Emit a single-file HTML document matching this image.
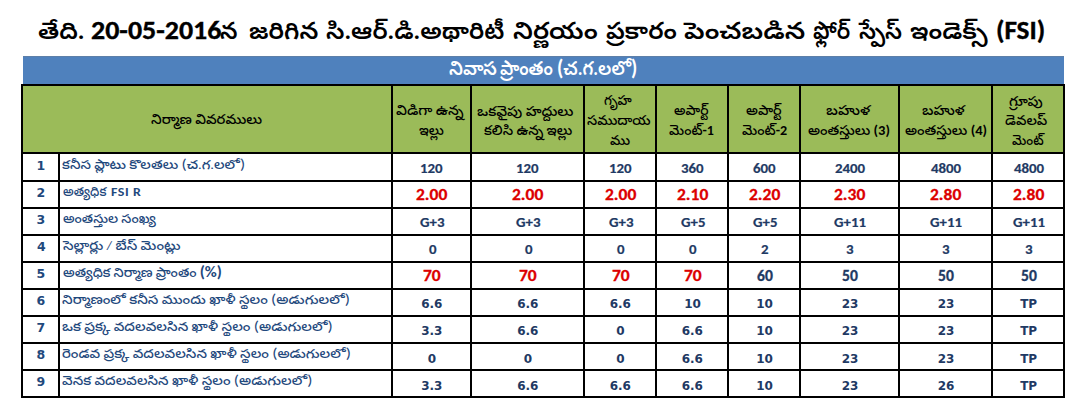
<!DOCTYPE html>
<html><head><meta charset="utf-8"><title>FSI</title><style>
*{margin:0;padding:0;box-sizing:border-box}
html,body{width:1081px;height:411px;overflow:hidden;background:#fff}
body{position:relative}
.a{position:absolute;white-space:nowrap;line-height:normal}
.p{font-size:15px}
.l{position:absolute;background:#000}
</style></head>
<body>
<div style="position:absolute;left:23px;top:56px;width:1041px;height:28px;background:#4f81bd;border-top:1px solid #5d7fa8"></div>
<div style="position:absolute;left:23px;top:86px;width:1040px;height:66px;background:#9bbb59"></div>
<div class="l" style="left:21px;top:84px;width:2px;height:314px"></div>
<div class="l" style="left:58px;top:152px;width:2px;height:246px"></div>
<div class="l" style="left:391px;top:84px;width:2px;height:314px"></div>
<div class="l" style="left:470px;top:84px;width:2px;height:314px"></div>
<div class="l" style="left:583px;top:84px;width:2px;height:314px"></div>
<div class="l" style="left:655px;top:84px;width:2px;height:314px"></div>
<div class="l" style="left:727px;top:84px;width:2px;height:314px"></div>
<div class="l" style="left:799px;top:84px;width:2px;height:314px"></div>
<div class="l" style="left:898px;top:84px;width:2px;height:314px"></div>
<div class="l" style="left:991px;top:84px;width:2px;height:314px"></div>
<div class="l" style="left:1063px;top:84px;width:2px;height:314px"></div>
<div class="l" style="left:21px;top:84px;width:1044px;height:2px"></div>
<div class="l" style="left:21px;top:152px;width:1044px;height:2px"></div>
<div class="l" style="left:21px;top:180px;width:1044px;height:2px"></div>
<div class="l" style="left:21px;top:207px;width:1044px;height:2px"></div>
<div class="l" style="left:21px;top:234px;width:1044px;height:2px"></div>
<div class="l" style="left:21px;top:261px;width:1044px;height:2px"></div>
<div class="l" style="left:21px;top:288px;width:1044px;height:2px"></div>
<div class="l" style="left:21px;top:315px;width:1044px;height:2px"></div>
<div class="l" style="left:21px;top:342px;width:1044px;height:2px"></div>
<div class="l" style="left:21px;top:369px;width:1044px;height:2px"></div>
<div class="l" style="left:21px;top:396px;width:1044px;height:2px"></div>
<div class="a" style="left:38.03px;top:17.00px;font-family:Carlito,'Liberation Sans','Noto Sans Telugu UI','Noto Sans Telugu',sans-serif;font-size:23.5px;font-weight:600;color:#000;transform:scaleX(1.0683);transform-origin:0 0;">తేది.</div>
<div class="a" style="left:90.76px;top:12.70px;font-family:Carlito,'Liberation Sans','Noto Sans Telugu UI','Noto Sans Telugu',sans-serif;font-size:27px;font-weight:700;-webkit-text-stroke:0.35px #000;color:#000;transform:scaleX(1.0352);transform-origin:0 0;">20-05-2016</div>
<div class="a" style="left:220.00px;top:17.00px;font-family:Carlito,'Liberation Sans','Noto Sans Telugu UI','Noto Sans Telugu',sans-serif;font-size:23.5px;font-weight:600;color:#000;">న</div>
<div class="a" style="left:248.52px;top:17.00px;font-family:Carlito,'Liberation Sans','Noto Sans Telugu UI','Noto Sans Telugu',sans-serif;font-size:23.5px;font-weight:600;color:#000;transform:scaleX(1.0778);transform-origin:0 0;">జరిగిన</div>
<div class="a" style="left:325.94px;top:17.00px;font-family:Carlito,'Liberation Sans','Noto Sans Telugu UI','Noto Sans Telugu',sans-serif;font-size:23.5px;font-weight:600;color:#000;transform:scaleX(1.0551);transform-origin:0 0;">సి.ఆర్.డి.అథారిటీ</div>
<div class="a" style="left:513.18px;top:17.00px;font-family:Carlito,'Liberation Sans','Noto Sans Telugu UI','Noto Sans Telugu',sans-serif;font-size:23.5px;font-weight:600;color:#000;transform:scaleX(1.1243);transform-origin:0 0;">నిర్ణయం</div>
<div class="a" style="left:606.00px;top:17.00px;font-family:Carlito,'Liberation Sans','Noto Sans Telugu UI','Noto Sans Telugu',sans-serif;font-size:23.5px;font-weight:600;color:#000;transform:scaleX(1.0682);transform-origin:0 0;">ప్రకారం</div>
<div class="a" style="left:683.70px;top:17.00px;font-family:Carlito,'Liberation Sans','Noto Sans Telugu UI','Noto Sans Telugu',sans-serif;font-size:23.5px;font-weight:600;color:#000;transform:scaleX(1.1709);transform-origin:0 0;">పెంచబడిన</div>
<div class="a" style="left:812.56px;top:17.00px;font-family:Carlito,'Liberation Sans','Noto Sans Telugu UI','Noto Sans Telugu',sans-serif;font-size:23.5px;font-weight:600;color:#000;transform:scaleX(0.9385);transform-origin:0 0;">ఫ్లోర్</div>
<div class="a" style="left:859.30px;top:17.00px;font-family:Carlito,'Liberation Sans','Noto Sans Telugu UI','Noto Sans Telugu',sans-serif;font-size:23.5px;font-weight:600;color:#000;transform:scaleX(0.9705);transform-origin:0 0;">స్పేస్</div>
<div class="a" style="left:910.01px;top:17.00px;font-family:Carlito,'Liberation Sans','Noto Sans Telugu UI','Noto Sans Telugu',sans-serif;font-size:23.5px;font-weight:600;color:#000;transform:scaleX(1.0914);transform-origin:0 0;">ఇండెక్స్</div>
<div class="a" style="left:996.09px;top:12.70px;font-family:Carlito,'Liberation Sans','Noto Sans Telugu UI','Noto Sans Telugu',sans-serif;font-size:27px;font-weight:700;-webkit-text-stroke:0.35px #000;color:#000;transform:scaleX(1.0085);transform-origin:0 0;">(FSI)</div>
<div class="a" style="left:448.75px;top:55.60px;font-family:Carlito,'Liberation Sans','Noto Sans Telugu UI','Noto Sans Telugu',sans-serif;font-size:19.5px;font-weight:600;color:#fff;transform:scaleX(0.9510);transform-origin:0 0;">నివాస</div>
<div class="a" style="left:500.20px;top:55.60px;font-family:Carlito,'Liberation Sans','Noto Sans Telugu UI','Noto Sans Telugu',sans-serif;font-size:19.5px;font-weight:600;color:#fff;transform:scaleX(0.9052);transform-origin:0 0;">ప్రాంతం</div>
<div class="a" style="left:556.58px;top:53.60px;font-family:Carlito,'Liberation Sans','Noto Sans Telugu UI','Noto Sans Telugu',sans-serif;font-size:19.5px;font-weight:600;color:#fff;transform:scaleX(0.9151);transform-origin:0 0;"><span style='font-size:22px'>(</span>చ.గ.లలో<span style='font-size:22px'>)</span></div>
<div class="a" style="left:151.40px;top:111.00px;font-family:Carlito,'Liberation Sans','Noto Sans Telugu UI','Noto Sans Telugu',sans-serif;font-size:14px;font-weight:500;color:#000;transform:scaleX(1.0472);transform-origin:0 0;">నిర్మాణ వివరములు</div>
<div class="a" style="left:395.60px;top:102.20px;font-family:Carlito,'Liberation Sans','Noto Sans Telugu UI','Noto Sans Telugu',sans-serif;font-size:14px;font-weight:500;color:#000;transform:scaleX(1.0687);transform-origin:0 0;">విడిగా ఉన్న</div>
<div class="a" style="left:419.00px;top:122.00px;font-family:Carlito,'Liberation Sans','Noto Sans Telugu UI','Noto Sans Telugu',sans-serif;font-size:14px;font-weight:500;color:#000;transform:scaleX(0.9960);transform-origin:0 0;">ఇల్లు</div>
<div class="a" style="left:477.20px;top:102.80px;font-family:Carlito,'Liberation Sans','Noto Sans Telugu UI','Noto Sans Telugu',sans-serif;font-size:14px;font-weight:500;color:#000;transform:scaleX(1.0622);transform-origin:0 0;">ఒకవైపు హద్దులు</div>
<div class="a" style="left:483.70px;top:121.60px;font-family:Carlito,'Liberation Sans','Noto Sans Telugu UI','Noto Sans Telugu',sans-serif;font-size:14px;font-weight:500;color:#000;transform:scaleX(1.0329);transform-origin:0 0;">కలిసి ఉన్న ఇల్లు</div>
<div class="a" style="left:604.00px;top:92.20px;font-family:Carlito,'Liberation Sans','Noto Sans Telugu UI','Noto Sans Telugu',sans-serif;font-size:14px;font-weight:500;color:#000;transform:scaleX(0.9552);transform-origin:0 0;">గృహ</div>
<div class="a" style="left:587.20px;top:112.20px;font-family:Carlito,'Liberation Sans','Noto Sans Telugu UI','Noto Sans Telugu',sans-serif;font-size:14px;font-weight:500;color:#000;transform:scaleX(1.0079);transform-origin:0 0;">సముదాయ</div>
<div class="a" style="left:609.70px;top:131.80px;font-family:Carlito,'Liberation Sans','Noto Sans Telugu UI','Noto Sans Telugu',sans-serif;font-size:14px;font-weight:500;color:#000;transform:scaleX(1.0050);transform-origin:0 0;">ము</div>
<div class="a" style="left:674.00px;top:102.00px;font-family:Carlito,'Liberation Sans','Noto Sans Telugu UI','Noto Sans Telugu',sans-serif;font-size:14px;font-weight:500;color:#000;transform:scaleX(0.9857);transform-origin:0 0;">అపార్ట్</div>
<div class="a" style="left:669.10px;top:122.00px;font-family:Carlito,'Liberation Sans','Noto Sans Telugu UI','Noto Sans Telugu',sans-serif;font-size:14px;font-weight:500;color:#000;">మెంట్<b>-1</b></div>
<div class="a" style="left:746.00px;top:102.00px;font-family:Carlito,'Liberation Sans','Noto Sans Telugu UI','Noto Sans Telugu',sans-serif;font-size:14px;font-weight:500;color:#000;transform:scaleX(1.0200);transform-origin:0 0;">అపార్ట్</div>
<div class="a" style="left:742.00px;top:122.20px;font-family:Carlito,'Liberation Sans','Noto Sans Telugu UI','Noto Sans Telugu',sans-serif;font-size:14px;font-weight:500;color:#000;transform:scaleX(1.0067);transform-origin:0 0;">మెంట్<b>-2</b></div>
<div class="a" style="left:826.20px;top:102.00px;font-family:Carlito,'Liberation Sans','Noto Sans Telugu UI','Noto Sans Telugu',sans-serif;font-size:14px;font-weight:500;color:#000;transform:scaleX(1.1049);transform-origin:0 0;">బహుళ</div>
<div class="a" style="left:808.40px;top:122.20px;font-family:Carlito,'Liberation Sans','Noto Sans Telugu UI','Noto Sans Telugu',sans-serif;font-size:14px;font-weight:500;color:#000;transform:scaleX(1.0342);transform-origin:0 0;">అంతస్తులు <b>(3)</b></div>
<div class="a" style="left:921.70px;top:102.00px;font-family:Carlito,'Liberation Sans','Noto Sans Telugu UI','Noto Sans Telugu',sans-serif;font-size:14px;font-weight:500;color:#000;transform:scaleX(1.0659);transform-origin:0 0;">బహుళ</div>
<div class="a" style="left:904.70px;top:122.20px;font-family:Carlito,'Liberation Sans','Noto Sans Telugu UI','Noto Sans Telugu',sans-serif;font-size:14px;font-weight:500;color:#000;transform:scaleX(1.0354);transform-origin:0 0;">అంతస్తులు <b>(4)</b></div>
<div class="a" style="left:1009.10px;top:92.60px;font-family:Carlito,'Liberation Sans','Noto Sans Telugu UI','Noto Sans Telugu',sans-serif;font-size:14px;font-weight:500;color:#000;transform:scaleX(1.0625);transform-origin:0 0;">గ్రూపు</div>
<div class="a" style="left:1005.10px;top:112.40px;font-family:Carlito,'Liberation Sans','Noto Sans Telugu UI','Noto Sans Telugu',sans-serif;font-size:14px;font-weight:500;color:#000;transform:scaleX(1.0268);transform-origin:0 0;">డెవలప్</div>
<div class="a" style="left:1011.60px;top:132.00px;font-family:Carlito,'Liberation Sans','Noto Sans Telugu UI','Noto Sans Telugu',sans-serif;font-size:14px;font-weight:500;color:#000;transform:scaleX(0.9457);transform-origin:0 0;">మెంట్</div>
<div class="a" style="left:62.20px;top:154.60px;font-family:Carlito,'Liberation Sans','Noto Sans Telugu UI','Noto Sans Telugu',sans-serif;font-size:12.8px;font-weight:500;color:#1f497d;transform:scaleX(1.1335);transform-origin:0 0;">కనీస ప్లాటు కొలతలు <span style='font-size:15px'>(</span>చ.గ.లలో<span style='font-size:15px'>)</span></div>
<div class="a" style="left:36.40px;top:157.60px;font-family:'DejaVu Sans',sans-serif;font-size:12.5px;font-weight:700;color:#1f497d;">1</div>
<div class="a" style="left:420.24px;top:158.80px;font-family:Carlito,'Liberation Sans',sans-serif;font-size:14.3px;font-weight:700;-webkit-text-stroke:0.2px #1f3a64;color:#1f3a64;transform:scaleX(1.0400);transform-origin:0 0;">120</div>
<div class="a" style="left:516.24px;top:158.80px;font-family:Carlito,'Liberation Sans',sans-serif;font-size:14.3px;font-weight:700;-webkit-text-stroke:0.2px #1f3a64;color:#1f3a64;transform:scaleX(1.0400);transform-origin:0 0;">120</div>
<div class="a" style="left:608.74px;top:158.80px;font-family:Carlito,'Liberation Sans',sans-serif;font-size:14.3px;font-weight:700;-webkit-text-stroke:0.2px #1f3a64;color:#1f3a64;transform:scaleX(1.0400);transform-origin:0 0;">120</div>
<div class="a" style="left:680.74px;top:158.80px;font-family:Carlito,'Liberation Sans',sans-serif;font-size:14.3px;font-weight:700;-webkit-text-stroke:0.2px #1f3a64;color:#1f3a64;transform:scaleX(1.0400);transform-origin:0 0;">360</div>
<div class="a" style="left:753.26px;top:158.80px;font-family:Carlito,'Liberation Sans',sans-serif;font-size:14.3px;font-weight:700;-webkit-text-stroke:0.2px #1f3a64;color:#1f3a64;transform:scaleX(1.0400);transform-origin:0 0;">600</div>
<div class="a" style="left:835.12px;top:158.80px;font-family:Carlito,'Liberation Sans',sans-serif;font-size:14.3px;font-weight:700;-webkit-text-stroke:0.2px #1f3a64;color:#1f3a64;transform:scaleX(1.0400);transform-origin:0 0;">2400</div>
<div class="a" style="left:931.12px;top:158.80px;font-family:Carlito,'Liberation Sans',sans-serif;font-size:14.3px;font-weight:700;-webkit-text-stroke:0.2px #1f3a64;color:#1f3a64;transform:scaleX(1.0400);transform-origin:0 0;">4800</div>
<div class="a" style="left:1013.62px;top:158.80px;font-family:Carlito,'Liberation Sans',sans-serif;font-size:14.3px;font-weight:700;-webkit-text-stroke:0.2px #1f3a64;color:#1f3a64;transform:scaleX(1.0400);transform-origin:0 0;">4800</div>
<div class="a" style="left:62.70px;top:183.70px;font-family:Carlito,'Liberation Sans','Noto Sans Telugu UI','Noto Sans Telugu',sans-serif;font-size:12.8px;font-weight:500;color:#1f497d;transform:scaleX(1.0023);transform-origin:0 0;">అత్యధిక</div>
<div class="a" style="left:111.28px;top:183.70px;font-family:Carlito,'Liberation Sans',sans-serif;font-size:12.5px;font-weight:700;letter-spacing:0.5px;color:#1f497d;transform:scaleX(1.1154);transform-origin:0 0;">FSI R</div>
<div class="a" style="left:36.40px;top:184.70px;font-family:'DejaVu Sans',sans-serif;font-size:12.5px;font-weight:700;color:#1f497d;">2</div>
<div class="a" style="left:416.30px;top:183.90px;font-family:Carlito,'Liberation Sans',sans-serif;font-size:16.5px;font-weight:700;-webkit-text-stroke:0.3px #dc0000;color:#dc0000;transform:scaleX(1.0600);transform-origin:0 0;">2.00</div>
<div class="a" style="left:512.30px;top:183.90px;font-family:Carlito,'Liberation Sans',sans-serif;font-size:16.5px;font-weight:700;-webkit-text-stroke:0.3px #dc0000;color:#dc0000;transform:scaleX(1.0600);transform-origin:0 0;">2.00</div>
<div class="a" style="left:604.80px;top:183.90px;font-family:Carlito,'Liberation Sans',sans-serif;font-size:16.5px;font-weight:700;-webkit-text-stroke:0.3px #dc0000;color:#dc0000;transform:scaleX(1.0600);transform-origin:0 0;">2.00</div>
<div class="a" style="left:676.80px;top:183.90px;font-family:Carlito,'Liberation Sans',sans-serif;font-size:16.5px;font-weight:700;-webkit-text-stroke:0.3px #dc0000;color:#dc0000;transform:scaleX(1.0600);transform-origin:0 0;">2.10</div>
<div class="a" style="left:748.80px;top:183.90px;font-family:Carlito,'Liberation Sans',sans-serif;font-size:16.5px;font-weight:700;-webkit-text-stroke:0.3px #dc0000;color:#dc0000;transform:scaleX(1.0600);transform-origin:0 0;">2.20</div>
<div class="a" style="left:834.30px;top:183.90px;font-family:Carlito,'Liberation Sans',sans-serif;font-size:16.5px;font-weight:700;-webkit-text-stroke:0.3px #dc0000;color:#dc0000;transform:scaleX(1.0600);transform-origin:0 0;">2.30</div>
<div class="a" style="left:930.30px;top:183.90px;font-family:Carlito,'Liberation Sans',sans-serif;font-size:16.5px;font-weight:700;-webkit-text-stroke:0.3px #dc0000;color:#dc0000;transform:scaleX(1.0600);transform-origin:0 0;">2.80</div>
<div class="a" style="left:1012.80px;top:183.90px;font-family:Carlito,'Liberation Sans',sans-serif;font-size:16.5px;font-weight:700;-webkit-text-stroke:0.3px #dc0000;color:#dc0000;transform:scaleX(1.0600);transform-origin:0 0;">2.80</div>
<div class="a" style="left:62.70px;top:210.80px;font-family:Carlito,'Liberation Sans','Noto Sans Telugu UI','Noto Sans Telugu',sans-serif;font-size:12.8px;font-weight:500;color:#1f497d;transform:scaleX(1.0895);transform-origin:0 0;">అంతస్తుల సంఖ్య</div>
<div class="a" style="left:36.40px;top:211.80px;font-family:'DejaVu Sans',sans-serif;font-size:12.5px;font-weight:700;color:#1f497d;">3</div>
<div class="a" style="left:420.24px;top:213.00px;font-family:Carlito,'Liberation Sans',sans-serif;font-size:14.3px;font-weight:700;-webkit-text-stroke:0.2px #1f3a64;color:#1f3a64;transform:scaleX(1.0400);transform-origin:0 0;">G+3</div>
<div class="a" style="left:516.24px;top:213.00px;font-family:Carlito,'Liberation Sans',sans-serif;font-size:14.3px;font-weight:700;-webkit-text-stroke:0.2px #1f3a64;color:#1f3a64;transform:scaleX(1.0400);transform-origin:0 0;">G+3</div>
<div class="a" style="left:608.74px;top:213.00px;font-family:Carlito,'Liberation Sans',sans-serif;font-size:14.3px;font-weight:700;-webkit-text-stroke:0.2px #1f3a64;color:#1f3a64;transform:scaleX(1.0400);transform-origin:0 0;">G+3</div>
<div class="a" style="left:680.74px;top:213.00px;font-family:Carlito,'Liberation Sans',sans-serif;font-size:14.3px;font-weight:700;-webkit-text-stroke:0.2px #1f3a64;color:#1f3a64;transform:scaleX(1.0400);transform-origin:0 0;">G+5</div>
<div class="a" style="left:752.74px;top:213.00px;font-family:Carlito,'Liberation Sans',sans-serif;font-size:14.3px;font-weight:700;-webkit-text-stroke:0.2px #1f3a64;color:#1f3a64;transform:scaleX(1.0400);transform-origin:0 0;">G+5</div>
<div class="a" style="left:834.08px;top:213.00px;font-family:Carlito,'Liberation Sans',sans-serif;font-size:14.3px;font-weight:700;-webkit-text-stroke:0.2px #1f3a64;color:#1f3a64;transform:scaleX(1.0400);transform-origin:0 0;">G+11</div>
<div class="a" style="left:930.08px;top:213.00px;font-family:Carlito,'Liberation Sans',sans-serif;font-size:14.3px;font-weight:700;-webkit-text-stroke:0.2px #1f3a64;color:#1f3a64;transform:scaleX(1.0400);transform-origin:0 0;">G+11</div>
<div class="a" style="left:1012.58px;top:213.00px;font-family:Carlito,'Liberation Sans',sans-serif;font-size:14.3px;font-weight:700;-webkit-text-stroke:0.2px #1f3a64;color:#1f3a64;transform:scaleX(1.0400);transform-origin:0 0;">G+11</div>
<div class="a" style="left:62.70px;top:237.90px;font-family:Carlito,'Liberation Sans','Noto Sans Telugu UI','Noto Sans Telugu',sans-serif;font-size:12.8px;font-weight:500;color:#1f497d;transform:scaleX(1.1437);transform-origin:0 0;">సెల్లార్లు / బేస్ మెంట్లు</div>
<div class="a" style="left:36.90px;top:238.90px;font-family:'DejaVu Sans',sans-serif;font-size:12.5px;font-weight:700;color:#1f497d;">4</div>
<div class="a" style="left:428.56px;top:240.10px;font-family:Carlito,'Liberation Sans',sans-serif;font-size:14.3px;font-weight:700;-webkit-text-stroke:0.2px #1f3a64;color:#1f3a64;transform:scaleX(1.0400);transform-origin:0 0;">0</div>
<div class="a" style="left:524.56px;top:240.10px;font-family:Carlito,'Liberation Sans',sans-serif;font-size:14.3px;font-weight:700;-webkit-text-stroke:0.2px #1f3a64;color:#1f3a64;transform:scaleX(1.0400);transform-origin:0 0;">0</div>
<div class="a" style="left:617.06px;top:240.10px;font-family:Carlito,'Liberation Sans',sans-serif;font-size:14.3px;font-weight:700;-webkit-text-stroke:0.2px #1f3a64;color:#1f3a64;transform:scaleX(1.0400);transform-origin:0 0;">0</div>
<div class="a" style="left:689.06px;top:240.10px;font-family:Carlito,'Liberation Sans',sans-serif;font-size:14.3px;font-weight:700;-webkit-text-stroke:0.2px #1f3a64;color:#1f3a64;transform:scaleX(1.0400);transform-origin:0 0;">0</div>
<div class="a" style="left:761.06px;top:240.10px;font-family:Carlito,'Liberation Sans',sans-serif;font-size:14.3px;font-weight:700;-webkit-text-stroke:0.2px #1f3a64;color:#1f3a64;transform:scaleX(1.0400);transform-origin:0 0;">2</div>
<div class="a" style="left:846.04px;top:240.10px;font-family:Carlito,'Liberation Sans',sans-serif;font-size:14.3px;font-weight:700;-webkit-text-stroke:0.2px #1f3a64;color:#1f3a64;transform:scaleX(1.0400);transform-origin:0 0;">3</div>
<div class="a" style="left:942.04px;top:240.10px;font-family:Carlito,'Liberation Sans',sans-serif;font-size:14.3px;font-weight:700;-webkit-text-stroke:0.2px #1f3a64;color:#1f3a64;transform:scaleX(1.0400);transform-origin:0 0;">3</div>
<div class="a" style="left:1024.54px;top:240.10px;font-family:Carlito,'Liberation Sans',sans-serif;font-size:14.3px;font-weight:700;-webkit-text-stroke:0.2px #1f3a64;color:#1f3a64;transform:scaleX(1.0400);transform-origin:0 0;">3</div>
<div class="a" style="left:62.70px;top:263.00px;font-family:Carlito,'Liberation Sans','Noto Sans Telugu UI','Noto Sans Telugu',sans-serif;font-size:12.8px;font-weight:500;color:#1f497d;transform:scaleX(1.0965);transform-origin:0 0;">అత్యధిక నిర్మాణ ప్రాంతం <span style='font-size:15px;font-weight:700'>(%)</span></div>
<div class="a" style="left:36.40px;top:266.00px;font-family:'DejaVu Sans',sans-serif;font-size:12.5px;font-weight:700;color:#1f497d;">5</div>
<div class="a" style="left:423.19px;top:265.20px;font-family:Carlito,'Liberation Sans',sans-serif;font-size:16.5px;font-weight:700;-webkit-text-stroke:0.3px #dc0000;color:#dc0000;transform:scaleX(1.0600);transform-origin:0 0;">70</div>
<div class="a" style="left:519.19px;top:265.20px;font-family:Carlito,'Liberation Sans',sans-serif;font-size:16.5px;font-weight:700;-webkit-text-stroke:0.3px #dc0000;color:#dc0000;transform:scaleX(1.0600);transform-origin:0 0;">70</div>
<div class="a" style="left:611.69px;top:265.20px;font-family:Carlito,'Liberation Sans',sans-serif;font-size:16.5px;font-weight:700;-webkit-text-stroke:0.3px #dc0000;color:#dc0000;transform:scaleX(1.0600);transform-origin:0 0;">70</div>
<div class="a" style="left:683.69px;top:265.20px;font-family:Carlito,'Liberation Sans',sans-serif;font-size:16.5px;font-weight:700;-webkit-text-stroke:0.3px #dc0000;color:#dc0000;transform:scaleX(1.0600);transform-origin:0 0;">70</div>
<div class="a" style="left:756.90px;top:267.20px;font-family:Carlito,'Liberation Sans',sans-serif;font-size:15px;font-weight:700;-webkit-text-stroke:0.3px #1f3a64;color:#1f3a64;transform:scaleX(1.0400);transform-origin:0 0;">60</div>
<div class="a" style="left:842.40px;top:267.20px;font-family:Carlito,'Liberation Sans',sans-serif;font-size:15px;font-weight:700;-webkit-text-stroke:0.3px #1f3a64;color:#1f3a64;transform:scaleX(1.0400);transform-origin:0 0;">50</div>
<div class="a" style="left:938.40px;top:267.20px;font-family:Carlito,'Liberation Sans',sans-serif;font-size:15px;font-weight:700;-webkit-text-stroke:0.3px #1f3a64;color:#1f3a64;transform:scaleX(1.0400);transform-origin:0 0;">50</div>
<div class="a" style="left:1020.90px;top:267.20px;font-family:Carlito,'Liberation Sans',sans-serif;font-size:15px;font-weight:700;-webkit-text-stroke:0.3px #1f3a64;color:#1f3a64;transform:scaleX(1.0400);transform-origin:0 0;">50</div>
<div class="a" style="left:61.50px;top:290.10px;font-family:Carlito,'Liberation Sans','Noto Sans Telugu UI','Noto Sans Telugu',sans-serif;font-size:12.8px;font-weight:500;color:#1f497d;transform:scaleX(1.1438);transform-origin:0 0;">నిర్మాణంలో కనీస ముందు ఖాళీ స్థలం <span style='font-size:15px'>(</span>అడుగులలో<span style='font-size:15px'>)</span></div>
<div class="a" style="left:36.40px;top:293.10px;font-family:'DejaVu Sans',sans-serif;font-size:12.5px;font-weight:700;color:#1f497d;">6</div>
<div class="a" style="left:421.20px;top:297.30px;font-family:'DejaVu Sans',sans-serif;font-size:12px;font-weight:700;color:#1f3a64;">6.6</div>
<div class="a" style="left:517.20px;top:297.30px;font-family:'DejaVu Sans',sans-serif;font-size:12px;font-weight:700;color:#1f3a64;">6.6</div>
<div class="a" style="left:609.70px;top:297.30px;font-family:'DejaVu Sans',sans-serif;font-size:12px;font-weight:700;color:#1f3a64;">6.6</div>
<div class="a" style="left:684.20px;top:297.30px;font-family:'DejaVu Sans',sans-serif;font-size:12px;font-weight:700;color:#1f3a64;">10</div>
<div class="a" style="left:756.20px;top:297.30px;font-family:'DejaVu Sans',sans-serif;font-size:12px;font-weight:700;color:#1f3a64;">10</div>
<div class="a" style="left:841.70px;top:297.30px;font-family:'DejaVu Sans',sans-serif;font-size:12px;font-weight:700;color:#1f3a64;">23</div>
<div class="a" style="left:937.70px;top:297.30px;font-family:'DejaVu Sans',sans-serif;font-size:12px;font-weight:700;color:#1f3a64;">23</div>
<div class="a" style="left:1020.20px;top:297.30px;font-family:'DejaVu Sans',sans-serif;font-size:12px;font-weight:700;color:#1f3a64;">TP</div>
<div class="a" style="left:62.00px;top:317.20px;font-family:Carlito,'Liberation Sans','Noto Sans Telugu UI','Noto Sans Telugu',sans-serif;font-size:12.8px;font-weight:500;color:#1f497d;transform:scaleX(1.1477);transform-origin:0 0;">ఒక ప్రక్క వదలవలసిన ఖాళీ స్థలం <span style='font-size:15px'>(</span>అడుగులలో<span style='font-size:15px'>)</span></div>
<div class="a" style="left:36.40px;top:320.20px;font-family:'DejaVu Sans',sans-serif;font-size:12.5px;font-weight:700;color:#1f497d;">7</div>
<div class="a" style="left:421.20px;top:324.40px;font-family:'DejaVu Sans',sans-serif;font-size:12px;font-weight:700;color:#1f3a64;">3.3</div>
<div class="a" style="left:517.20px;top:324.40px;font-family:'DejaVu Sans',sans-serif;font-size:12px;font-weight:700;color:#1f3a64;">6.6</div>
<div class="a" style="left:616.20px;top:324.40px;font-family:'DejaVu Sans',sans-serif;font-size:12px;font-weight:700;color:#1f3a64;">0</div>
<div class="a" style="left:681.70px;top:324.40px;font-family:'DejaVu Sans',sans-serif;font-size:12px;font-weight:700;color:#1f3a64;">6.6</div>
<div class="a" style="left:756.20px;top:324.40px;font-family:'DejaVu Sans',sans-serif;font-size:12px;font-weight:700;color:#1f3a64;">10</div>
<div class="a" style="left:841.70px;top:324.40px;font-family:'DejaVu Sans',sans-serif;font-size:12px;font-weight:700;color:#1f3a64;">23</div>
<div class="a" style="left:937.70px;top:324.40px;font-family:'DejaVu Sans',sans-serif;font-size:12px;font-weight:700;color:#1f3a64;">23</div>
<div class="a" style="left:1020.20px;top:324.40px;font-family:'DejaVu Sans',sans-serif;font-size:12px;font-weight:700;color:#1f3a64;">TP</div>
<div class="a" style="left:62.00px;top:344.30px;font-family:Carlito,'Liberation Sans','Noto Sans Telugu UI','Noto Sans Telugu',sans-serif;font-size:12.8px;font-weight:500;color:#1f497d;transform:scaleX(1.1425);transform-origin:0 0;">రెండవ ప్రక్క వదలవలసిన ఖాళీ స్థలం <span style='font-size:15px'>(</span>అడుగులలో<span style='font-size:15px'>)</span></div>
<div class="a" style="left:36.40px;top:347.30px;font-family:'DejaVu Sans',sans-serif;font-size:12.5px;font-weight:700;color:#1f497d;">8</div>
<div class="a" style="left:427.70px;top:351.50px;font-family:'DejaVu Sans',sans-serif;font-size:12px;font-weight:700;color:#1f3a64;">0</div>
<div class="a" style="left:523.70px;top:351.50px;font-family:'DejaVu Sans',sans-serif;font-size:12px;font-weight:700;color:#1f3a64;">0</div>
<div class="a" style="left:616.20px;top:351.50px;font-family:'DejaVu Sans',sans-serif;font-size:12px;font-weight:700;color:#1f3a64;">0</div>
<div class="a" style="left:681.70px;top:351.50px;font-family:'DejaVu Sans',sans-serif;font-size:12px;font-weight:700;color:#1f3a64;">6.6</div>
<div class="a" style="left:756.20px;top:351.50px;font-family:'DejaVu Sans',sans-serif;font-size:12px;font-weight:700;color:#1f3a64;">10</div>
<div class="a" style="left:841.70px;top:351.50px;font-family:'DejaVu Sans',sans-serif;font-size:12px;font-weight:700;color:#1f3a64;">23</div>
<div class="a" style="left:937.70px;top:351.50px;font-family:'DejaVu Sans',sans-serif;font-size:12px;font-weight:700;color:#1f3a64;">23</div>
<div class="a" style="left:1020.20px;top:351.50px;font-family:'DejaVu Sans',sans-serif;font-size:12px;font-weight:700;color:#1f3a64;">TP</div>
<div class="a" style="left:62.00px;top:371.40px;font-family:Carlito,'Liberation Sans','Noto Sans Telugu UI','Noto Sans Telugu',sans-serif;font-size:12.8px;font-weight:500;color:#1f497d;transform:scaleX(1.1411);transform-origin:0 0;">వెనక వదలవలసిన ఖాళీ స్థలం <span style='font-size:15px'>(</span>అడుగులలో<span style='font-size:15px'>)</span></div>
<div class="a" style="left:36.40px;top:374.40px;font-family:'DejaVu Sans',sans-serif;font-size:12.5px;font-weight:700;color:#1f497d;">9</div>
<div class="a" style="left:421.20px;top:378.60px;font-family:'DejaVu Sans',sans-serif;font-size:12px;font-weight:700;color:#1f3a64;">3.3</div>
<div class="a" style="left:517.20px;top:378.60px;font-family:'DejaVu Sans',sans-serif;font-size:12px;font-weight:700;color:#1f3a64;">6.6</div>
<div class="a" style="left:609.70px;top:378.60px;font-family:'DejaVu Sans',sans-serif;font-size:12px;font-weight:700;color:#1f3a64;">6.6</div>
<div class="a" style="left:681.70px;top:378.60px;font-family:'DejaVu Sans',sans-serif;font-size:12px;font-weight:700;color:#1f3a64;">6.6</div>
<div class="a" style="left:756.20px;top:378.60px;font-family:'DejaVu Sans',sans-serif;font-size:12px;font-weight:700;color:#1f3a64;">10</div>
<div class="a" style="left:841.70px;top:378.60px;font-family:'DejaVu Sans',sans-serif;font-size:12px;font-weight:700;color:#1f3a64;">23</div>
<div class="a" style="left:937.70px;top:378.60px;font-family:'DejaVu Sans',sans-serif;font-size:12px;font-weight:700;color:#1f3a64;">26</div>
<div class="a" style="left:1020.20px;top:378.60px;font-family:'DejaVu Sans',sans-serif;font-size:12px;font-weight:700;color:#1f3a64;">TP</div>
</body></html>
